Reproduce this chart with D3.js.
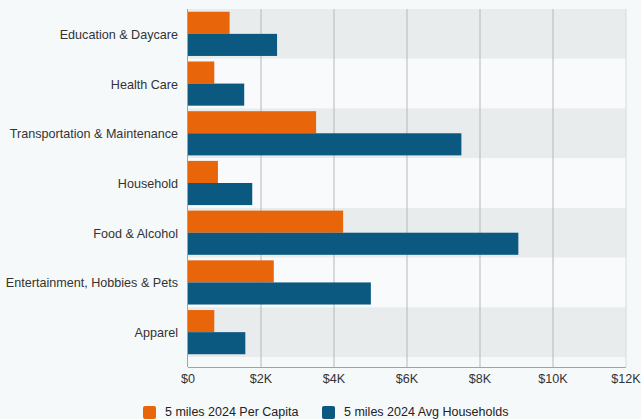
<!DOCTYPE html>
<html><head><meta charset="utf-8">
<script src="https://cdn.jsdelivr.net/npm/d3@7"></script>
<style>
html,body{margin:0;padding:0;background:#f6f9fa;}
svg{display:block;font-family:"Liberation Sans",Arial,sans-serif;}
</style></head>
<body><svg id="c" width="641" height="419"></svg>
<script>
const categories = ["Education & Daycare","Health Care","Transportation & Maintenance","Household","Food & Alcohol","Entertainment, Hobbies & Pets","Apparel"];
const perCapita = [1140, 720, 3510, 820, 4250, 2350, 720];
const avgHouseholds = [2440, 1540, 7490, 1760, 9050, 5010, 1570];
const seriesNames = ["5 miles 2024 Per Capita","5 miles 2024 Avg Households"];
const seriesColors = ["#e8650a","#0b5880"];
const tickValues = [0,2000,4000,6000,8000,10000,12000];
const tickLabels = ["$0","$2K","$4K","$6K","$8K","$10K","$12K"];

const svg = d3.select("#c");
const L = 188, R = 626, T = 9, B = 357, AX = 367;
const x = d3.scaleLinear().domain([0,12000]).range([L,R]);
const y = d3.scaleBand().domain(categories).range([T,B]);
const inner = d3.scaleBand().domain([0,1]).range([0,y.bandwidth()]).paddingOuter(0.125).paddingInner(0);

// bands
svg.append("g").selectAll("rect").data(categories).join("rect")
  .attr("x",L).attr("width",R-L).attr("y",d=>y(d)).attr("height",y.bandwidth())
  .attr("fill",(d,i)=> i%2===0 ? "#e8eced" : "#f8fafb");

// grid lines
svg.append("g").selectAll("line").data(tickValues.slice(1)).join("line")
  .attr("x1",d=>x(d)).attr("x2",d=>x(d)).attr("y1",T).attr("y2",AX)
  .attr("stroke",d=> d===12000 ? "#d8dcdd" : "#b5b8ba").attr("stroke-width",1);

// bars
const series = [perCapita, avgHouseholds];
series.forEach((vals,si)=>{
  svg.append("g").selectAll("rect").data(vals).join("rect")
    .attr("x",x(0)).attr("y",(d,i)=>y(categories[i])+inner(si))
    .attr("width",d=>x(d)-x(0)).attr("height",inner.bandwidth())
    .attr("fill",seriesColors[si]);
});

// axes lines
svg.append("line").attr("x1",L-0.5).attr("x2",L-0.5).attr("y1",T).attr("y2",AX).attr("stroke","#a0a4a6");
svg.append("line").attr("x1",L).attr("x2",R).attr("y1",AX+0.5).attr("y2",AX+0.5).attr("stroke","#a0a4a6");

// x tick labels
svg.append("g").selectAll("text").data(tickValues).join("text")
  .attr("x",d=>x(d)).attr("y",383).attr("text-anchor","middle")
  .attr("font-size",12.6).attr("fill","#333").text((d,i)=>tickLabels[i]);

// category labels
svg.append("g").selectAll("text").data(categories).join("text")
  .attr("x",178).attr("y",d=>y(d)+y.bandwidth()/2).attr("dy","0.4em")
  .attr("text-anchor","end").attr("font-size",12.6).attr("fill","#333").text(d=>d);

// legend
const lg = svg.append("g");
const legX = [143, 322];
seriesNames.forEach((n,i)=>{
  lg.append("rect").attr("x",legX[i]).attr("y",406).attr("width",13).attr("height",13).attr("rx",2).attr("fill",seriesColors[i]);
  lg.append("text").attr("x",legX[i]+22).attr("y",415.5).attr("font-size",12.5).attr("fill","#222").text(n);
});
</script></body></html>
